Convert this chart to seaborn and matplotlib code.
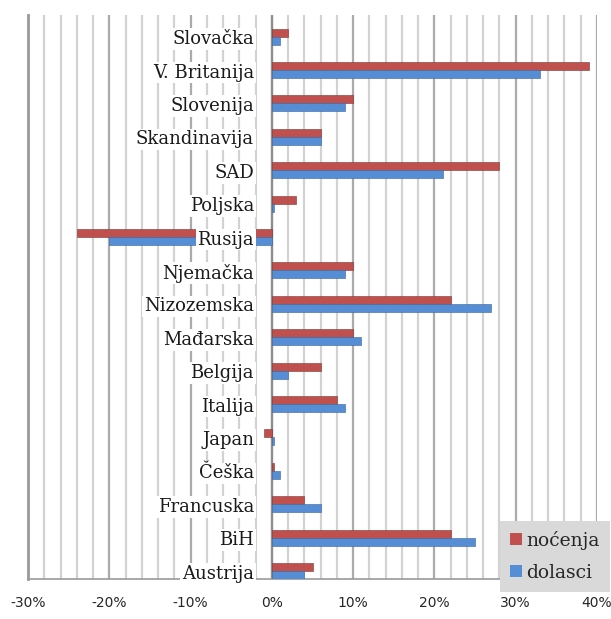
import numpy as np
import pandas as pd
import seaborn as sns
import matplotlib.pyplot as plt
from matplotlib.ticker import MultipleLocator, FuncFormatter

countries = ['Slovačka', 'V. Britanija', 'Slovenija', 'Skandinavija', 'SAD', 'Poljska',
             'Rusija', 'Njemačka', 'Nizozemska', 'Mađarska', 'Belgija', 'Italija',
             'Japan', 'Češka', 'Francuska', 'BiH', 'Austrija']
nocenja = [2, 39, 10, 6, 28, 3, -24, 10, 22, 10, 6, 8, -1, 0.2, 4, 22, 5]
dolasci = [1, 33, 9, 6, 21, 0.2, -20, 9, 27, 11, 2, 9, 0.2, 1, 6, 25, 4]
series = ['noćenja', 'dolasci']
colors = ['#C0504D', '#558ED5']

df = pd.DataFrame({'country': countries * 2,
                   'value': nocenja + dolasci,
                   'series': [series[0]] * len(countries) + [series[1]] * len(countries)})

sns.set_style('white')
plt.rcParams['font.family'] = ['DejaVu Sans']

fig = plt.figure(figsize=(6.11, 6.19), dpi=100)
ax = fig.add_axes([0.046, 0.064, 0.931, 0.912])

sns.barplot(data=df, y='country', x='value', hue='series', orient='h',
            palette=colors, width=0.48, ax=ax, edgecolor='#7a3533', linewidth=0.4,
            saturation=1, zorder=3)
# darker edge for the blue bars
for bar in ax.containers[1]:
    bar.set_edgecolor('#3a639a')

ax.set_xlim(-30, 40)
ax.set_ylim(16.25, -0.65)
ax.xaxis.set_major_locator(MultipleLocator(10))
ax.xaxis.set_minor_locator(MultipleLocator(2))
ax.xaxis.set_major_formatter(FuncFormatter(lambda v, p: f'{v:.0f}%'))
ax.grid(which='minor', axis='x', color='#d2d2d2', lw=1.6, zorder=0)
ax.grid(which='major', axis='x', color='#ababab', lw=1.6, zorder=0)
ax.axvline(0, color='#8c8c8c', lw=1.6, zorder=1)
ax.tick_params(axis='x', which='major', length=4, color='#888888', labelsize=10, pad=8)
ax.set_yticks([])
ax.set_xlabel('')
ax.set_ylabel('')
for s in ['top', 'right']:
    ax.spines[s].set_visible(False)
ax.spines['left'].set_color('#999999')
ax.spines['left'].set_linewidth(2)
ax.spines['bottom'].set_color('#999999')
ax.spines['bottom'].set_linewidth(1.2)

# category labels sit inside the plot next to the zero line
for i, name in enumerate(countries):
    ax.text(-2.2, i + 0.08, name, ha='right', va='center', fontsize=13,
            family='DejaVu Serif', color='#1a1a1a', zorder=5,
            bbox=dict(boxstyle='square,pad=0.1', fc='white', ec='none'))

leg = ax.legend(loc='lower right', bbox_to_anchor=(1.023, -0.023), borderaxespad=0,
                frameon=True, fancybox=False, facecolor='#d9d9d9', edgecolor='none',
                framealpha=1, prop={'family': 'DejaVu Serif', 'size': 13.5},
                handlelength=0.6, handleheight=0.6, handletextpad=0.25,
                labelspacing=0.75, borderpad=0.55)
leg.set_zorder(6)
for h in leg.legend_handles:
    h.set_edgecolor('none')

fig.savefig('out.png', dpi=100)
